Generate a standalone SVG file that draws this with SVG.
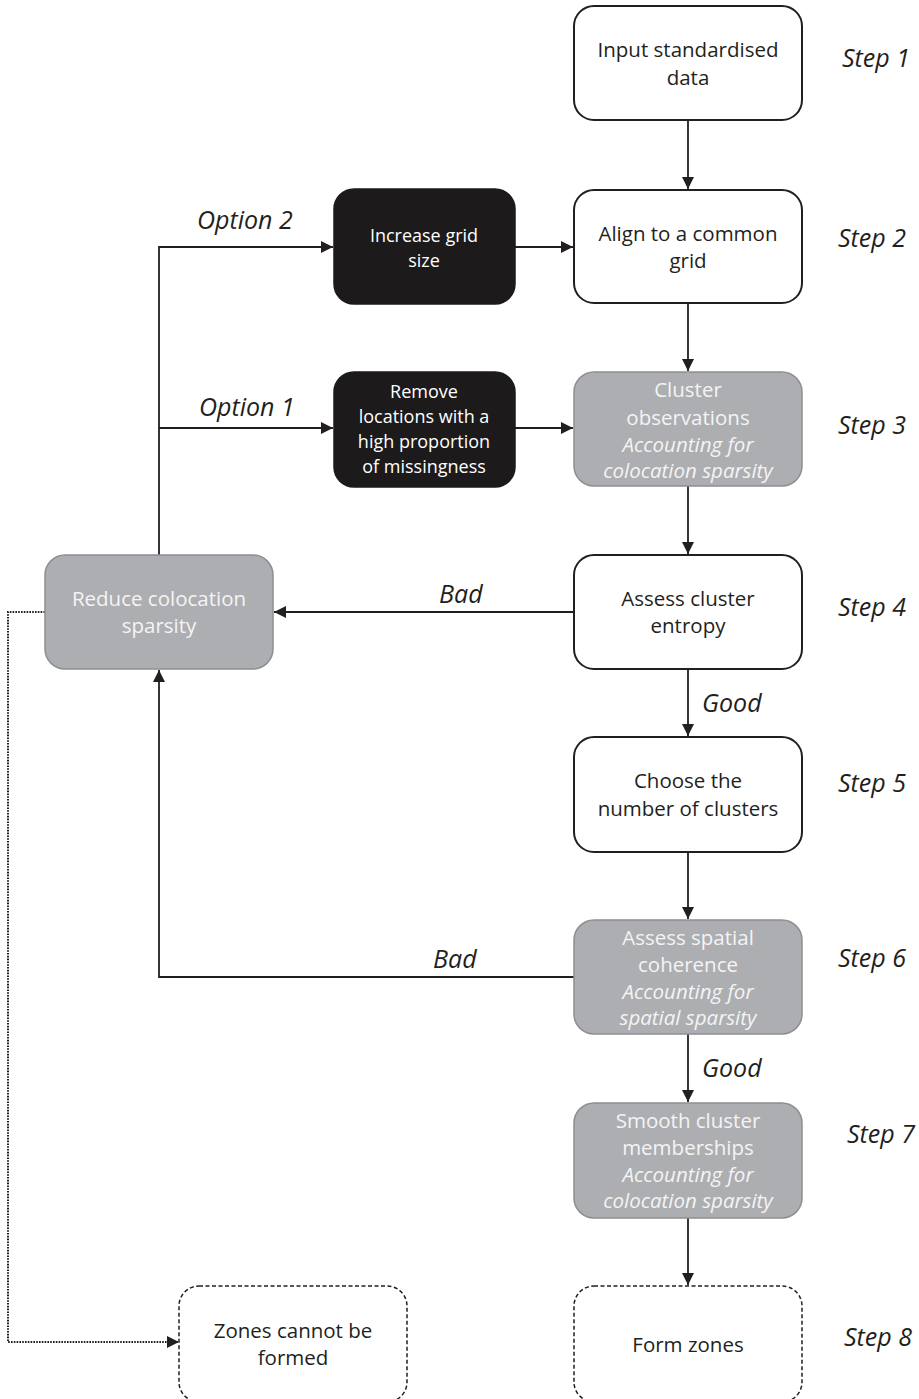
<svg xmlns="http://www.w3.org/2000/svg" width="919" height="1399" viewBox="0 0 919 1399">
<defs>
<style>
.wb{fill:#fff;stroke:#231f20;stroke-width:2}
.gb{fill:#adaeb1;stroke:#8e8f92;stroke-width:1.5}
.bb{fill:#1c1a1b;stroke:#1c1a1b;stroke-width:1.5}
.db{fill:#fff;stroke:#231f20;stroke-width:1.5;stroke-dasharray:4 2.5}
.t{font-family:"Open Sans","Noto Sans",sans-serif;font-size:20.5px;text-anchor:middle;fill:#231f20}
.tw{font-family:"Open Sans","Noto Sans",sans-serif;font-size:20.5px;text-anchor:middle;fill:#f4f4f4}
.ti{font-style:italic}
.tb{font-family:"Open Sans","Noto Sans",sans-serif;font-size:18px;text-anchor:middle;fill:#fff}
.lab{font-family:"Open Sans","Noto Sans",sans-serif;font-size:25px;font-style:italic;fill:#231f20}
.c{fill:none;stroke:#231f20;stroke-width:1.8}
.dot{fill:none;stroke:#231f20;stroke-width:2;stroke-dasharray:1.6 1.2}
</style>
<marker id="ah" viewBox="0 0 10 10" refX="10" refY="5" markerWidth="12" markerHeight="12" markerUnits="userSpaceOnUse" orient="auto">
<path d="M0,0 L10,5 L0,10 z" fill="#231f20"/>
</marker>
</defs>

<g id="connectors">
<line class="c" x1="688" y1="120" x2="688" y2="189" marker-end="url(#ah)"/>
<line class="c" x1="688" y1="303" x2="688" y2="371" marker-end="url(#ah)"/>
<line class="c" x1="688" y1="486" x2="688" y2="554" marker-end="url(#ah)"/>
<line class="c" x1="688" y1="669" x2="688" y2="736" marker-end="url(#ah)"/>
<line class="c" x1="688" y1="852" x2="688" y2="919" marker-end="url(#ah)"/>
<line class="c" x1="688" y1="1034" x2="688" y2="1102" marker-end="url(#ah)"/>
<line class="c" x1="688" y1="1218" x2="688" y2="1285" marker-end="url(#ah)"/>
<line class="c" x1="515" y1="247" x2="573" y2="247" marker-end="url(#ah)"/>
<line class="c" x1="515" y1="428" x2="573" y2="428" marker-end="url(#ah)"/>
<polyline class="c" points="159,555 159,247 333,247" marker-end="url(#ah)"/>
<line class="c" x1="159" y1="428" x2="333" y2="428" marker-end="url(#ah)"/>
<line class="c" x1="574" y1="612" x2="274" y2="612" marker-end="url(#ah)"/>
<polyline class="c" points="574,977 159,977 159,670" marker-end="url(#ah)"/>
<polyline class="dot" points="45,612 8,612 8,1342 179,1342" marker-end="url(#ah)"/>
<text class="lab" x="197" y="229">Option 2</text>
<text class="lab" x="199" y="416">Option 1</text>
<text class="lab" x="439" y="603">Bad</text>
<text class="lab" x="702" y="712">Good</text>
<text class="lab" x="433" y="968">Bad</text>
<text class="lab" x="702" y="1077">Good</text>
</g>

<g id="step1">
<rect class="wb" x="574" y="6" width="228" height="114" rx="20"/>
<text class="t" x="688" y="57">Input standardised</text>
<text class="t" x="688" y="85">data</text>
<text class="lab" x="842" y="67">Step 1</text>
</g>

<g id="step2">
<rect class="wb" x="574" y="190" width="228" height="113" rx="20"/>
<text class="t" x="688" y="241">Align to a common</text>
<text class="t" x="688" y="268">grid</text>
<text class="lab" x="838" y="247">Step 2</text>
</g>

<g id="increase">
<rect class="bb" x="334" y="189" width="181" height="115" rx="20"/>
<text class="tb" x="424" y="242">Increase grid</text>
<text class="tb" x="424" y="267">size</text>
</g>

<g id="remove">
<rect class="bb" x="334" y="372" width="181" height="115" rx="20"/>
<text class="tb" x="424" y="398">Remove</text>
<text class="tb" x="424" y="423">locations with a</text>
<text class="tb" x="424" y="448">high proportion</text>
<text class="tb" x="424" y="473">of missingness</text>
</g>

<g id="step3">
<rect class="gb" x="574" y="372" width="228" height="114" rx="20"/>
<text class="tw" x="688" y="397">Cluster</text>
<text class="tw" x="688" y="425">observations</text>
<text class="tw ti" x="688" y="452">Accounting for</text>
<text class="tw ti" x="688" y="478">colocation sparsity</text>
<text class="lab" x="838" y="434">Step 3</text>
</g>

<g id="reduce">
<rect class="gb" x="45" y="555" width="228" height="114" rx="20"/>
<text class="tw" x="159" y="606">Reduce colocation</text>
<text class="tw" x="159" y="633">sparsity</text>
</g>

<g id="step4">
<rect class="wb" x="574" y="555" width="228" height="114" rx="20"/>
<text class="t" x="688" y="606">Assess cluster</text>
<text class="t" x="688" y="633">entropy</text>
<text class="lab" x="838" y="616">Step 4</text>
</g>

<g id="step5">
<rect class="wb" x="574" y="737" width="228" height="115" rx="20"/>
<text class="t" x="688" y="788">Choose the</text>
<text class="t" x="688" y="816">number of clusters</text>
<text class="lab" x="838" y="792">Step 5</text>
</g>

<g id="step6">
<rect class="gb" x="574" y="920" width="228" height="114" rx="20"/>
<text class="tw" x="688" y="945">Assess spatial</text>
<text class="tw" x="688" y="972">coherence</text>
<text class="tw ti" x="688" y="999">Accounting for</text>
<text class="tw ti" x="688" y="1025">spatial sparsity</text>
<text class="lab" x="838" y="967">Step 6</text>
</g>

<g id="step7">
<rect class="gb" x="574" y="1103" width="228" height="115" rx="20"/>
<text class="tw" x="688" y="1128">Smooth cluster</text>
<text class="tw" x="688" y="1155">memberships</text>
<text class="tw ti" x="688" y="1182">Accounting for</text>
<text class="tw ti" x="688" y="1208">colocation sparsity</text>
<text class="lab" x="847" y="1143">Step 7</text>
</g>

<g id="zones-cannot">
<rect class="db" x="179" y="1286" width="228" height="116" rx="20"/>
<text class="t" x="293" y="1338">Zones cannot be</text>
<text class="t" x="293" y="1365">formed</text>
</g>

<g id="step8">
<rect class="db" x="574" y="1286" width="228" height="116" rx="20"/>
<text class="t" x="688" y="1352">Form zones</text>
<text class="lab" x="844" y="1346">Step 8</text>
</g>
</svg>
